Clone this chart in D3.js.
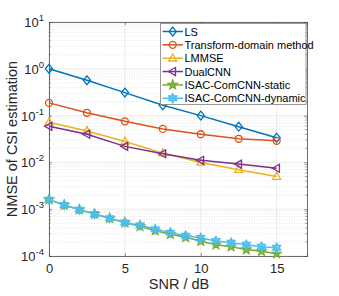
<!DOCTYPE html>
<html>
<head>
<meta charset="utf-8">
<script src="https://cdn.jsdelivr.net/npm/d3@7"></script>
<style>
  body { margin: 0; background: #fff; }
  svg { display: block; font-family: "Liberation Sans", Arial, sans-serif; }
</style>
</head>
<body>
<svg width="339" height="296"></svg>
<script>
// SNR points
var snrCoarse = [0, 2.5, 5, 7.5, 10, 12.5, 15];
var snrFine = [0, 1, 2, 3, 4, 5, 6, 7, 8, 9, 10, 11, 12, 13, 14, 15];

var lsVals = [1.0, 0.57, 0.31, 0.166, 0.1, 0.058, 0.0337];
var transformVals = [0.187, 0.115, 0.0755, 0.052, 0.040, 0.032, 0.029];
var lmmseVals = [0.072, 0.047, 0.028, 0.0158, 0.010, 0.007, 0.005];
var dualVals = [0.059, 0.040, 0.022, 0.0153, 0.0111, 0.0092, 0.0075];
var staticVals = [0.0016, 0.00123, 0.00098, 0.00079, 0.00064, 0.00052, 0.000431, 0.000347,
                  0.000291, 0.000251, 0.000206, 0.000174, 0.000158, 0.000137, 0.000126, 0.000112];
var dynamicVals = [0.0016, 0.00123, 0.00098, 0.00079, 0.00064, 0.00052, 0.000453, 0.000372,
                   0.000316, 0.000272, 0.000243, 0.00021, 0.000192, 0.000174, 0.000158, 0.00015];

var seriesNames = ["LS", "Transform-domain method", "LMMSE", "DualCNN", "ISAC-ComCNN-static", "ISAC-ComCNN-dynamic"];
var xTicks = [0, 5, 10, 15];
var yTicks = [1e-4, 1e-3, 1e-2, 1e-1, 1, 10];

var svg = d3.select("svg"),
    margin = {left: 49, top: 22, right: 32, bottom: 40},
    width = +svg.attr("width") - margin.left - margin.right,
    height = +svg.attr("height") - margin.top - margin.bottom;

var colors = ["#0072BD", "#D95319", "#EDB120", "#7E2F8E", "#77AC30", "#4DBEEE"];

var series = [
  {name: seriesNames[0], x: snrCoarse, y: lsVals, marker: "diamond"},
  {name: seriesNames[1], x: snrCoarse, y: transformVals, marker: "circle"},
  {name: seriesNames[2], x: snrCoarse, y: lmmseVals, marker: "triangle"},
  {name: seriesNames[3], x: snrCoarse, y: dualVals, marker: "left"},
  {name: seriesNames[4], x: snrFine, y: staticVals, marker: "pentagram"},
  {name: seriesNames[5], x: snrFine, y: dynamicVals, marker: "hexagram"}
];

var x = d3.scaleLinear().domain([0, 17]).range([0, width]);
var y = d3.scaleLog().domain([1e-4, 10]).range([height, 0]);

var g = svg.append("g").attr("transform", "translate(" + margin.left + "," + margin.top + ")");

// minor grid (dotted)
var minor = [];
for (var e = -4; e < 1; e++) {
  for (var m = 2; m < 10; m++) minor.push(m * Math.pow(10, e));
}
g.append("g").selectAll("line").data(minor).enter().append("line")
  .attr("x1", 0).attr("x2", width)
  .attr("y1", function(d) { return y(d); }).attr("y2", function(d) { return y(d); })
  .attr("stroke", "#d9d9d9").attr("stroke-width", 0.6).attr("stroke-dasharray", "1,1.5");

// major grid
g.append("g").selectAll("line").data(yTicks).enter().append("line")
  .attr("x1", 0).attr("x2", width)
  .attr("y1", function(d) { return y(d); }).attr("y2", function(d) { return y(d); })
  .attr("stroke", "#e3e3e3").attr("stroke-width", 0.7);
g.append("g").selectAll("line").data(xTicks).enter().append("line")
  .attr("y1", 0).attr("y2", height)
  .attr("x1", function(d) { return x(d); }).attr("x2", function(d) { return x(d); })
  .attr("stroke", "#e3e3e3").attr("stroke-width", 0.7);

// axes
var axisColor = "#4d4d4d";
var xAxis = g.append("g").attr("transform", "translate(0," + height + ")")
  .call(d3.axisBottom(x).tickValues(xTicks).tickSize(-3).tickPadding(8));
var xAxisTop = g.append("g")
  .call(d3.axisTop(x).tickValues(xTicks).tickSize(-3).tickFormat(""));
var yAxis = g.append("g")
  .call(d3.axisLeft(y).tickValues(yTicks).tickSize(-3).tickPadding(5).tickFormat(""));
var yAxisRight = g.append("g").attr("transform", "translate(" + width + ",0)")
  .call(d3.axisRight(y).tickValues(yTicks).tickSize(-3).tickFormat(""));
// minor ticks
[0, width].forEach(function(px) {
  g.append("g").selectAll("line").data(minor).enter().append("line")
    .attr("x1", px).attr("x2", px === 0 ? 1.6 : width - 1.6)
    .attr("y1", function(d) { return y(d); }).attr("y2", function(d) { return y(d); })
    .attr("stroke", axisColor).attr("stroke-width", 0.6);
});

[xAxis, xAxisTop, yAxis, yAxisRight].forEach(function(a) {
  a.select(".domain").attr("stroke", axisColor).attr("stroke-width", 0.8);
  a.selectAll(".tick line").attr("stroke", axisColor).attr("stroke-width", 0.6);
});
xAxis.selectAll("text").attr("fill", "#262626").style("font-size", "13px")
  .style("font-family", "Liberation Sans, Arial, sans-serif");

// y tick labels with superscripts
var yLab = g.append("g").selectAll("text").data(yTicks).enter().append("text")
  .attr("x", -5).attr("y", function(d) { return y(d) + 5; })
  .attr("text-anchor", "end").attr("fill", "#262626")
  .style("font-size", "13px");
yLab.append("tspan").text("10");
yLab.append("tspan").attr("dy", -6).style("font-size", "9.5px")
  .text(function(d) { return Math.round(Math.log10(d)); });

// axis labels
svg.append("text").attr("x", margin.left + x(8.5) + 1).attr("y", 289)
  .attr("text-anchor", "middle").attr("fill", "#262626").style("font-size", "14.5px")
  .text("SNR / dB");
svg.append("text").attr("transform", "translate(17," + (margin.top + height / 2) + ") rotate(-90)")
  .attr("text-anchor", "middle").attr("fill", "#262626").style("font-size", "14.5px")
  .text("NMSE of CSI estimation");

// markers
function starPath(n, r1, r2) {
  var pts = [];
  for (var i = 0; i < 2 * n; i++) {
    var a = -Math.PI / 2 + i * Math.PI / n, r = i % 2 ? r2 : r1;
    pts.push([r * Math.cos(a), r * Math.sin(a)]);
  }
  return "M" + pts.join("L") + "Z";
}
function markerPath(type) {
  switch (type) {
    case "diamond": return "M0,-4.4L3.6,0L0,4.4L-3.6,0Z";
    case "circle": return d3.symbol(d3.symbolCircle, 38)();
    case "triangle": return "M0,-4.3L4,2.8L-4,2.8Z";
    case "left": return "M-4.3,0L2.8,-4L2.8,4Z";
    case "pentagram": return starPath(5, 4.8, 2);
    case "hexagram": return starPath(6, 4.6, 2.6);
  }
}

var line = d3.line()
  .x(function(d) { return x(d[0]); })
  .y(function(d) { return y(d[1]); });

series.forEach(function(s, i) {
  var pts = s.x.map(function(v, j) { return [v, s.y[j]]; });
  var sg = g.append("g");
  sg.append("path").datum(pts).attr("d", line)
    .attr("fill", "none").attr("stroke", colors[i]).attr("stroke-width", 1.5);
  var filled = s.marker === "pentagram" || s.marker === "hexagram";
  sg.selectAll("path.mk").data(pts).enter().append("path").attr("class", "mk")
    .attr("transform", function(d) { return "translate(" + x(d[0]) + "," + y(d[1]) + ")"; })
    .attr("d", markerPath(s.marker))
    .attr("fill", filled ? colors[i] : "none")
    .attr("fill-opacity", filled ? 0.75 : 1)
    .attr("stroke", colors[i]).attr("stroke-width", 1.3);
});

// legend
var lg = svg.append("g").attr("transform", "translate(160.5,23.5)");
lg.append("rect").attr("width", 145.5).attr("height", 81)
  .attr("fill", "#fff").attr("stroke", "#808080").attr("stroke-width", 0.8);
series.forEach(function(s, i) {
  var yy = 8 + i * 13.35;
  var row = lg.append("g").attr("transform", "translate(0," + yy + ")");
  row.append("line").attr("x1", 2).attr("x2", 22.5).attr("y1", 0).attr("y2", 0)
    .attr("stroke", colors[i]).attr("stroke-width", 1.5);
  var filled = s.marker === "pentagram" || s.marker === "hexagram";
  row.append("path").attr("transform", "translate(12.2,0)")
    .attr("d", markerPath(s.marker))
    .attr("fill", filled ? colors[i] : "none")
    .attr("fill-opacity", filled ? 0.75 : 1)
    .attr("stroke", colors[i]).attr("stroke-width", 1.3);
  row.append("text").attr("x", 24).attr("y", 4).attr("fill", "#000")
    .style("font-size", "11px").text(s.name);
});
</script>
</body>
</html>
